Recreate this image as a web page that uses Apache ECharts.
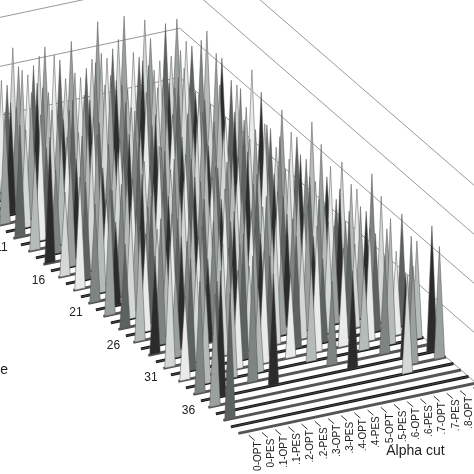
<!DOCTYPE html><html><head><meta charset="utf-8"><script src="https://cdn.jsdelivr.net/npm/echarts@6/dist/echarts.min.js"></script>
<style>html,body{margin:0;background:#fff}#c{width:474px;height:474px}</style></head><body><div id="c"></div><script>
const categories=['0-OPT','0-PES','.1-OPT','.1-PES','.2-OPT','.2-PES','.3-OPT','.3-PES','.4-OPT','.4-PES','.5-OPT','.5-PES','.6-OPT','.6-PES','.7-OPT','.7-PES','.8-OPT','.8-PES'];
const rowLabels=['11','16','21','26','31','36'];
// heights per row (rows 1..40), digit 0-9 per category
const rows=[
'070907080809090708','807090806070809060','090708080708070907','708080907080807080',
'060907080906070809','907080609070806090','080906070809070608','809070809060807090',
'070806090708090607','806090708060907080','090708060907080609','708080607080609070',
'060807090608070906','907060809070608090','080907060809060708','609080706090807060',
'070609080706090807','806070908060709080','090807060908070609','708060907080609070',
'060907080609070806','907080609070806090','080609070806090708','609070806090708060',
'070806090708060907','806090708060907080','090708060907080609','708060907080609070',
'060907080609070806','907080609070806090','080609070806090708','600070806090708060',
'070806000700060907','800090000060007080','090008000007000609','800000000000000708',
'000000000000007000','900000000000000000','000000000000000000','000000000000000000'];
const palette=['#2b2b2b','#9aa09f','#d3d8d5','#5c6161','#e8ebe8','#b5bbb8','#7d8483'];
const O=[245,432],C=[13.2,-2.8],R=[7.5,6.5],H=14,N=40,K=categories.length,W=0.4;
function P(i,j,h){return [O[0]+C[0]*i+R[0]*(j-N),O[1]+C[1]*i+R[1]*(j-N)-(h||0)*H];}
const series=[];
series.push({type:'custom',coordinateSystem:'cartesian2d',data:[0],z:1,renderItem:(p,api)=>{
 const ch=[];
 for(let h=0;h<=14;h+=3.5){
  const a=P(-0.5,0.5,h),b=P(K-0.5,0.5,h),c=P(K-0.5,N+0.5,h);
  ch.push({type:'polyline',shape:{points:[a,b,c].map(q=>api.coord(q))},style:{stroke:'#999',fill:null,lineWidth:1}});
 }
 return {type:'group',children:ch};}});
series.push({type:'custom',coordinateSystem:'cartesian2d',data:[0],z:2,renderItem:(p,api)=>{
 const ch=[];
 for(let j=1;j<=N;j++){const a=api.coord(P(-0.5,j)),b=api.coord(P(K-0.5,j));
  ch.push({type:'line',shape:{x1:a[0],y1:a[1],x2:b[0],y2:b[1]},style:{stroke:j%2?'#111':'#555',lineWidth:3}});}
 for(let i=0;i<K;i++){const a=api.coord(P(i,N+0.5)),b=api.coord(P(i,N+1.3));
  ch.push({type:'line',shape:{x1:a[0],y1:a[1],x2:b[0],y2:b[1]},style:{stroke:'#333',lineWidth:1}});
  ch.push({type:'text',x:b[0]+3,y:b[1]+1,rotation:Math.PI/2,style:{text:categories[i],fill:'#222',font:'10px "Liberation Sans Narrow",Arial',align:'right',verticalAlign:'middle'}});}
 rowLabels.forEach(l=>{const a=api.coord(P(-1.5,+l));ch.push({type:'text',x:a[0],y:a[1],style:{text:l,fill:'#222',font:'12px Arial',align:'right',verticalAlign:'middle'}});});
 const t=api.coord(P(9.5,N+6));ch.push({type:'text',x:t[0],y:t[1],style:{text:'Alpha cut',fill:'#222',font:'14px Arial',align:'center'}});
 ch.push({type:'text',x:8,y:370,style:{text:'Resource',fill:'#222',font:'14px Arial',align:'right',verticalAlign:'middle'}});
 return {type:'group',children:ch};}});
rows.forEach((s,idx)=>{const j=idx+1;const vals=s.split('').map(Number);
 series.push({type:'custom',coordinateSystem:'cartesian2d',data:[0],z:3+j,renderItem:(p,api)=>{
  const pts=[P(-0.5,j,0)];
  vals.forEach((v,i)=>{if(v>0){pts.push(P(i-W,j,0),P(i,j,v),P(i+W,j,0));}});
  pts.push(P(K-0.5,j,0));
  return {type:'polygon',shape:{points:pts.map(q=>api.coord(q))},style:{fill:palette[j%palette.length],stroke:'#555',lineWidth:0.5}};}});});
const chart=echarts.init(document.getElementById('c'));
chart.setOption({animation:false,grid:{left:0,right:0,top:0,bottom:0},
 xAxis:{type:'value',min:0,max:474,show:false},yAxis:{type:'value',min:0,max:474,inverse:true,show:false},series});
</script></body></html>
